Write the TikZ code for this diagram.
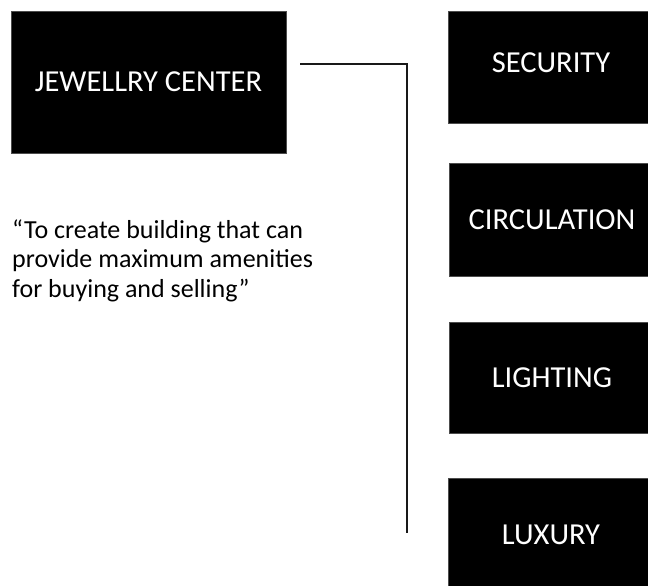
\documentclass[tikz,border=0pt]{standalone}
\usepackage{fontspec}
\setmainfont{Carlito}
\begin{document}
\begin{tikzpicture}[x=1pt,y=-1pt,
  box/.style={fill=black,draw=black!70,line width=0.6pt,inner sep=0pt,
    text=white,font=\fontsize{30.5}{36}\selectfont},
  wire/.style={line width=2pt,black!90}]
\useasboundingbox (0,0) rectangle (648,586);
\begin{scope}
\clip (0,0) rectangle (648,586);
% main topic
\node[box,minimum width=275pt,minimum height=142pt] (jc) at (148.5,82) {JEWELLRY CENTER};
% aspects on the right
\node[box,minimum width=206pt,minimum height=112pt,text depth=9pt] (sec) at (551,67) {SECURITY};
\node[box,minimum width=206pt,minimum height=113pt] (cir) at (552,219.5) {CIRCULATION};
\node[box,minimum width=206pt,minimum height=111pt] (lig) at (552,377.5) {LIGHTING};
\node[box,minimum width=206pt,minimum height=114pt] (lux) at (551,535) {LUXURY};
\end{scope}
% aim statement (base anchor sits on the last line)
\node[anchor=base west,align=left,inner sep=0pt,
  font=\fontsize{26}{29.5}\selectfont] (aim) at (12,297)
  {“To create building that can\\provide maximum amenities\\for buying and selling”};
% bracket linking the topic to its aspects
\coordinate (w1) at (300,64);
\coordinate (w2) at (407,533);
\draw[wire] (w1) -| (w2);
\end{tikzpicture}
\end{document}
